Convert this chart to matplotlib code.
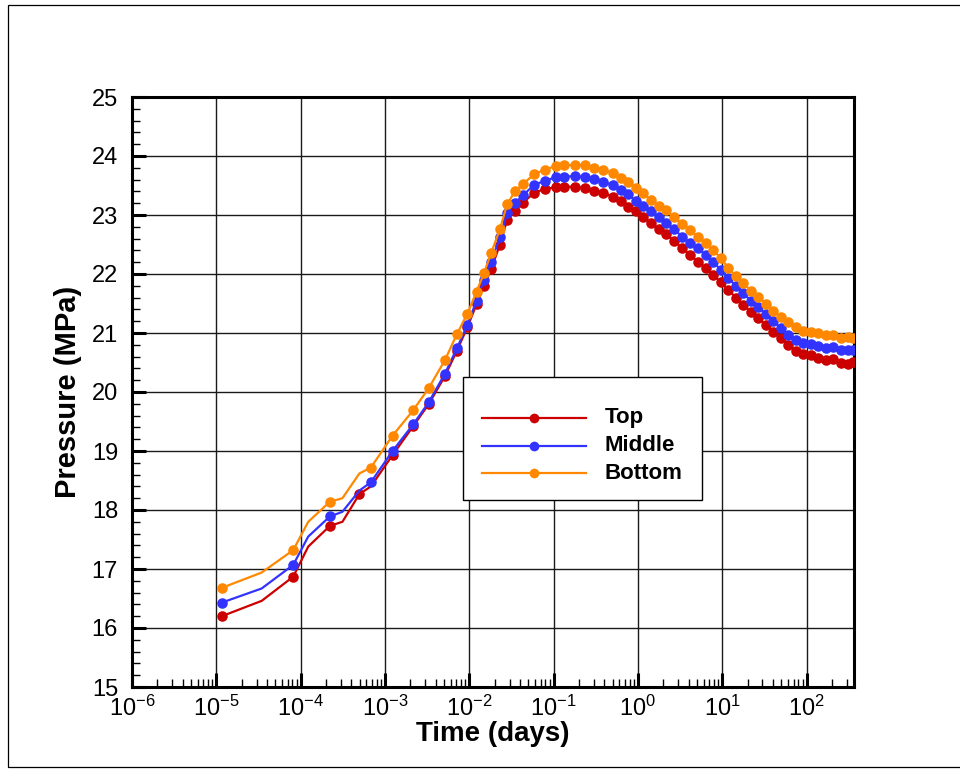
import math
import matplotlib
matplotlib.use("Agg")
import matplotlib.pyplot as plt
from matplotlib.patches import Rectangle
from matplotlib.lines import Line2D
from matplotlib.ticker import LogLocator, MultipleLocator, FuncFormatter

plt.rcParams["font.family"] = ["Liberation Sans", "DejaVu Sans"]
plt.rcParams["mathtext.fontset"] = "custom"
plt.rcParams["mathtext.rm"] = "Liberation Sans"
plt.rcParams["mathtext.it"] = "Liberation Sans:italic"
plt.rcParams["mathtext.bf"] = "Liberation Sans:bold"

# Output times (days) and pressure histories (MPa) at three depths
time_days = [1.16e-5, 3.45e-5, 8.17e-5, 1.23e-4, 2.22e-4, 3.13e-4, 4.98e-4, 6.81e-4,
             1.23e-3, 2.16e-3, 3.32e-3, 5.14e-3, 7.13e-3, 9.50e-3, 1.22e-2, 1.49e-2,
             1.81e-2, 2.31e-2, 2.81e-2, 3.47e-2, 4.36e-2, 5.88e-2, 7.87e-2, 0.106,
             0.133, 0.179, 0.235, 0.300, 0.387, 0.500, 0.627, 0.765, 0.944, 1.15,
             1.42, 1.77, 2.18, 2.69, 3.34, 4.12, 5.09, 6.33, 7.83, 9.62, 11.8, 14.5,
             17.8, 21.8, 26.8, 32.8, 40.3, 49.4, 60.7, 74.5, 91.4, 112, 138, 169,
             207, 255, 308, 353]

p_top = [16.20, 16.46, 16.87, 17.38, 17.73, 17.80, 18.27, 18.40,
         18.93, 19.42, 19.80, 20.27, 20.70, 21.10, 21.49, 21.80,
         22.08, 22.50, 22.92, 23.07, 23.21, 23.38, 23.44, 23.47,
         23.48, 23.48, 23.45, 23.41, 23.38, 23.31, 23.24, 23.14, 23.07, 22.96,
         22.86, 22.76, 22.67, 22.56, 22.44, 22.33, 22.21, 22.10, 21.98, 21.86, 21.73, 21.60,
         21.48, 21.36, 21.25, 21.13, 21.02, 20.91, 20.80, 20.70, 20.65, 20.62, 20.57, 20.55,
         20.56, 20.50, 20.47, 20.51]

p_middle = [16.43, 16.67, 17.07, 17.55, 17.89, 17.97, 18.33, 18.47,
            19.00, 19.45, 19.83, 20.31, 20.74, 21.14, 21.55, 21.90,
            22.21, 22.62, 23.03, 23.20, 23.34, 23.51, 23.58, 23.64,
            23.65, 23.66, 23.64, 23.61, 23.56, 23.51, 23.42, 23.35, 23.24, 23.16,
            23.06, 22.96, 22.86, 22.76, 22.63, 22.53, 22.44, 22.32, 22.20, 22.07, 21.93, 21.80,
            21.67, 21.55, 21.44, 21.32, 21.20, 21.08, 20.97, 20.88, 20.83, 20.81, 20.78, 20.75,
            20.76, 20.71, 20.72, 20.71]

p_bottom = [16.68, 16.94, 17.32, 17.80, 18.14, 18.20, 18.62, 18.72,
            19.26, 19.69, 20.07, 20.54, 20.98, 21.33, 21.70, 22.01,
            22.35, 22.76, 23.18, 23.40, 23.53, 23.69, 23.77, 23.83,
            23.84, 23.85, 23.84, 23.80, 23.77, 23.71, 23.63, 23.56, 23.45, 23.37,
            23.25, 23.16, 23.08, 22.96, 22.84, 22.75, 22.63, 22.53, 22.40, 22.27, 22.10, 21.97,
            21.84, 21.72, 21.61, 21.50, 21.38, 21.27, 21.18, 21.10, 21.04, 21.02, 21.00, 20.96,
            20.97, 20.92, 20.93, 20.92]

labels = ["Top", "Middle", "Bottom"]
colors = ["#CC0000", "#3333FF", "#FF8800"]

# symbols are only drawn on some of the early output steps
n = len(time_days)
mark_top = [0, 2, 4, 6] + list(range(8, n))
mark_other = [0, 2, 4, 7] + list(range(8, n))

W, H = 960, 770
fig = plt.figure(figsize=(W / 100, H / 100), dpi=100)

def px(x, y):
    return x / W, 1 - y / H

# outer frame
fig.add_artist(Rectangle(px(8, 767), 1.0, (767 - 5) / H, transform=fig.transFigure,
                         fill=False, edgecolor="black", lw=0.9, clip_on=False))

x0, y0 = px(132, 687)
x1, y1 = px(854, 97)
ax = fig.add_axes([x0, y0, x1 - x0, y1 - y0])

for p, c, me in zip([p_top, p_middle, p_bottom], colors, [mark_top, mark_other, mark_other]):
    ax.plot(time_days, p, color=c, lw=1.6, marker="o", ms=7.6, markevery=me,
            markeredgewidth=0, zorder=3)

ax.set_xscale("log")
ax.set_xlim(1e-6, 365)
ax.set_ylim(15, 25)

ax.xaxis.set_major_locator(LogLocator(base=10, numticks=20))
ax.xaxis.set_minor_locator(LogLocator(base=10, subs=range(2, 10), numticks=20))
ax.xaxis.set_major_formatter(FuncFormatter(lambda v, _: r"$10^{%d}$" % round(math.log10(v))))
ax.yaxis.set_major_locator(MultipleLocator(1))
ax.yaxis.set_minor_locator(MultipleLocator(0.2))

ax.grid(True, which="major", color="#1a1a1a", lw=1.0, zorder=1)
ax.tick_params(which="both", direction="in", top=False, right=False, colors="black")
ax.tick_params(which="major", length=10, width=2.2, labelsize=17)
ax.tick_params(which="minor", length=6, width=1.0)
ax.tick_params(axis="x", which="major", pad=6)
ax.tick_params(axis="y", which="major", pad=10)
for s in ax.spines.values():
    s.set_linewidth(2.2)

ax.set_xlabel("Time (days)", fontsize=20, fontweight="bold", labelpad=0)
ax.set_ylabel("Pressure (MPa)", fontsize=21, fontweight="bold", labelpad=7)

# legend box
lx0, ly0 = px(463, 500)
lx1, ly1 = px(702, 377)
fig.add_artist(Rectangle((lx0, ly0), lx1 - lx0, ly1 - ly0, transform=fig.transFigure,
                         facecolor="white", edgecolor="black", lw=1.0, zorder=5))
for i, (lab, c) in enumerate(zip(labels, colors)):
    yy = 418 + 27.5 * i
    a, b = px(482, yy)
    e, _ = px(586, yy)
    m, _ = px(534, yy)
    fig.add_artist(Line2D([a, e], [b, b], transform=fig.transFigure, color=c, lw=1.6, zorder=6))
    fig.add_artist(Line2D([m], [b], transform=fig.transFigure, color=c, marker="o", ms=7,
                          markeredgewidth=0, zorder=6))
    tx, ty = px(605, yy)
    fig.text(tx, ty, lab, fontsize=16, fontweight="bold", va="center", ha="left", zorder=7)

fig.savefig("out.png", dpi=100)
